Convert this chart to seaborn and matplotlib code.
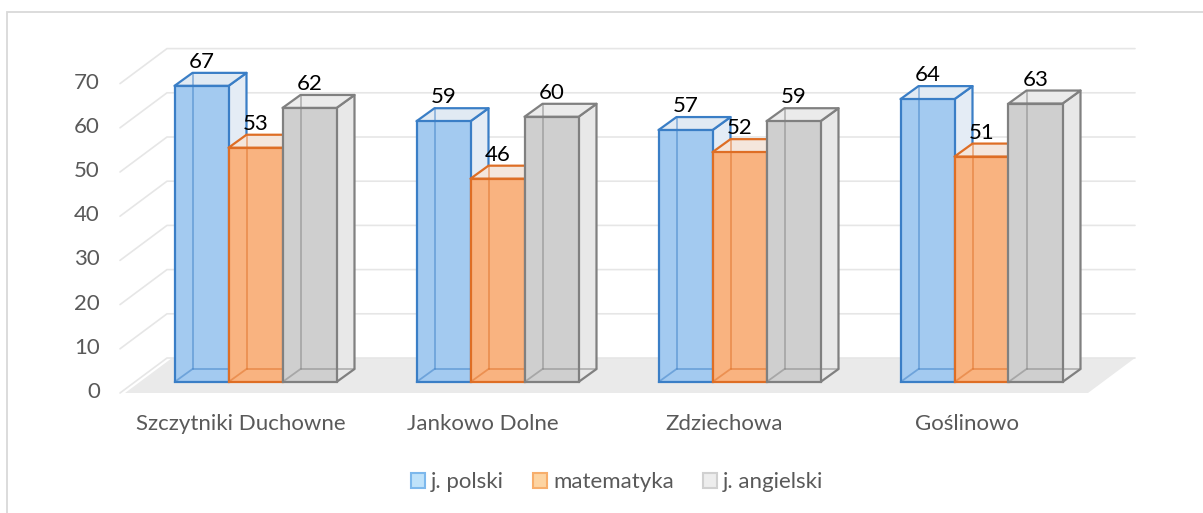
import numpy as np
import pandas as pd
import matplotlib
matplotlib.use("Agg")
import matplotlib.pyplot as plt
import seaborn as sns
from matplotlib.patches import Polygon, Rectangle, Patch
from matplotlib.lines import Line2D
from matplotlib.transforms import ScaledTranslation, IdentityTransform

# ---------------- data ----------------
schools = ["Szczytniki Duchowne", "Jankowo Dolne", "Zdziechowa", "Goślinowo"]
subjects = ["j. polski", "matematyka", "j. angielski"]
polski = [67, 59, 57, 64]
matematyka = [53, 46, 52, 51]
angielski = [62, 60, 59, 63]
y_ticks = [0, 10, 20, 30, 40, 50, 60, 70]

# ---------------- styles ----------------
front = {"j. polski": "#A3CAF0", "matematyka": "#F9B380", "j. angielski": "#CFCFCF"}
edges = ["#3A7EC6", "#DE6E25", "#808080"]
tops = ["#E1EAF3", "#F4E6DC", "#EBEBEB"]
sides = ["#E4ECF5", "#F6E3D6", "#E8E8E8"]
leg_face = ["#BFE2FA", "#FDD4A2", "#EDEDED"]
leg_edge = ["#7DB8EC", "#F7AE6C", "#D0D0D0"]
TXT = "#595959"
FS = 16
W, H = 1203, 513

sns.set_theme(style="white")
plt.rcParams["font.family"] = ["Lato", "DejaVu Sans"]

fig = plt.figure(figsize=(W / 100, H / 100), dpi=100)
scale = 4.42  # px per unit
ax_left, ax_right = 134.5, 1102.5
y0_img = 382
ylim_top = 75
ax = fig.add_axes([ax_left / W, (H - y0_img) / H, (ax_right - ax_left) / W,
                   ylim_top * scale / H])

df = pd.DataFrame({
    "school": schools * 3,
    "subject": [s for s in subjects for _ in schools],
    "score": polski + matematyka + angielski,
})

sns.barplot(data=df, x="school", y="score", hue="subject", order=schools,
            hue_order=subjects, palette=front, saturation=1, width=162 / 242,
            errorbar=None, legend=False, ax=ax, linewidth=1.6)
ax.set_xlim(-0.5, 3.5)
ax.set_ylim(0, ylim_top)
ax.set_xlabel("")
ax.set_ylabel("")
for s in ax.spines.values():
    s.set_visible(False)
ax.patch.set_alpha(0)

ID = IdentityTransform()
def P(x, yimg):
    return (x, H - yimg)

def add(artist):
    artist.set_clip_on(False)
    ax.add_artist(artist)

# floor
add(Polygon([P(125, 393), P(1088, 393), P(1135, 358), P(172, 358)],
            closed=True, transform=ID, facecolor="#EAEAEA", edgecolor="none",
            zorder=0.3))

# back-wall gridlines
for v in y_ticks:
    Yd = ax.transData.transform((0, v))[1]
    add(Line2D([120, 167, 1135], [Yd - 11, Yd + 24, Yd + 24], transform=ID,
               color="#E6E6E6", lw=1.2, zorder=0.4))

# 3D bars
DX, DY = 18, 13
for j, cont in enumerate(ax.containers):
    for rect in cont:
        x0, yb = rect.get_x(), rect.get_y()
        x1, yt = x0 + rect.get_width(), yb + rect.get_height()
        X0, Y0 = ax.transData.transform((x0, yb))
        X1, Y1 = ax.transData.transform((x1, yt))
        z = 2 + j
        add(Polygon([(X1, Y0), (X1 + DX, Y0 + DY), (X1 + DX, Y1 + DY), (X1, Y1)],
                    transform=ID, facecolor=sides[j], edgecolor=edges[j], lw=1.6,
                    zorder=z + 0.1, joinstyle="round"))
        add(Polygon([(X0, Y1), (X0 + DX, Y1 + DY), (X1 + DX, Y1 + DY), (X1, Y1)],
                    transform=ID, facecolor=tops[j], edgecolor=edges[j], lw=1.6,
                    zorder=z + 0.1, joinstyle="round"))
        rect.set_edgecolor(edges[j])
        rect.set_zorder(z + 0.3)
        rect.set_clip_on(False)
        add(Line2D([X0, X0 + DX, X1 + DX], [Y0, Y0 + DY, Y0 + DY],
                   transform=ID, color=edges[j], lw=1.3, alpha=0.5, zorder=z + 0.4))
        add(Line2D([X0 + DX, X0 + DX], [Y0 + DY, Y1 + DY], transform=ID,
                   color=edges[j], lw=1.3, alpha=0.5, zorder=z + 0.4))
    ax.bar_label(cont, padding=10, fontsize=FS, color="black", zorder=10)

# ticks
ax.set_yticks(y_ticks)
ax.set_yticklabels([str(v) for v in y_ticks])
ax.tick_params(axis="y", length=0, pad=25, labelsize=FS, labelcolor=TXT)
ax.tick_params(axis="x", length=0, pad=23, labelsize=FS, labelcolor=TXT)
for lab in ax.get_yticklabels():
    lab.set_transform(lab.get_transform() + ScaledTranslation(0, -0.08, fig.dpi_scale_trans))
for lab in ax.get_xticklabels():
    lab.set_transform(lab.get_transform() + ScaledTranslation(-0.15, 0, fig.dpi_scale_trans))
ax.grid(False)

# legend
handles = [Patch(facecolor=leg_face[i], edgecolor=leg_edge[i], lw=1.5, label=subjects[i])
           for i in range(3)]
fig.legend(handles=handles, loc="center", bbox_to_anchor=(617 / W, 1 - 482 / H),
           ncol=3, frameon=False, fontsize=FS, labelcolor=TXT, handlelength=0.65,
           handleheight=0.65, handletextpad=0.25, columnspacing=1.3)

# chart frame
fig.add_artist(Rectangle((7 / W, -0.05), 1.2, 1 - 12 / H + 0.05, transform=fig.transFigure,
                         facecolor="none", edgecolor="#D9D9D9", lw=1.3, zorder=0))

fig.savefig("out.png", dpi=100)
